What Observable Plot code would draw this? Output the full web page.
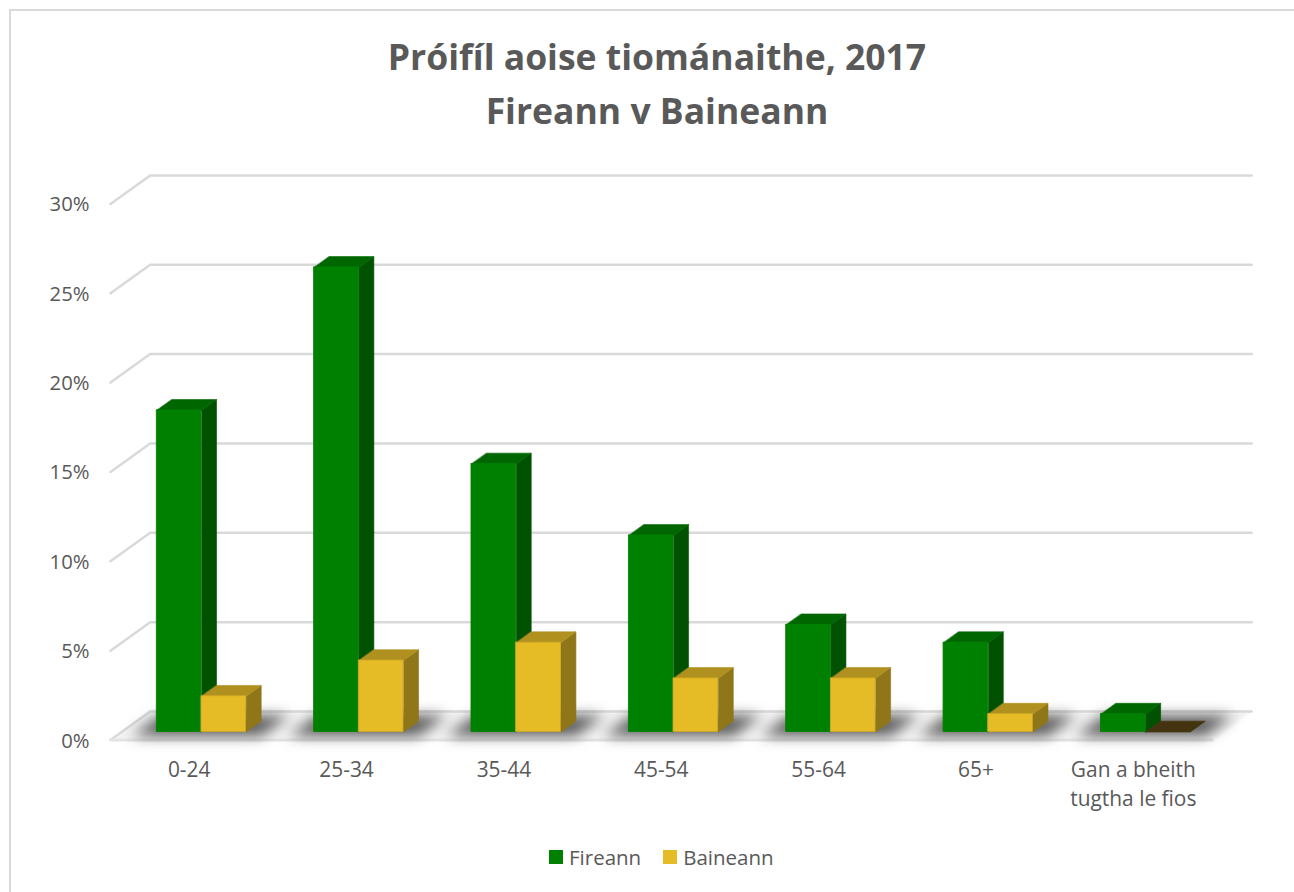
<!DOCTYPE html>
<html><head><meta charset="utf-8">
<script src="https://cdn.jsdelivr.net/npm/d3@7"></script>
<script src="https://cdn.jsdelivr.net/npm/@observablehq/plot@0.6"></script>
<style>
html,body{margin:0;padding:0;background:#fff;overflow:hidden}
#chart{position:relative;width:1294px;height:892px;overflow:hidden;background:#fff;font-family:"Open Sans",sans-serif;color:#595959}
#frame{position:absolute;left:8.5px;top:9px;width:1400px;height:1000px;border:2.5px solid #d9d9d9;box-sizing:border-box}
#title{position:relative;height:150px;padding-top:29px;box-sizing:border-box;text-align:center;font-weight:700;font-size:35.5px;line-height:54px;margin-left:20px}
#plot{position:relative;height:680px}
#plot svg{display:block}
#legend{position:absolute;left:549px;top:845px;display:flex;align-items:center;font-size:20.5px;line-height:24px}
#legend i{display:inline-block;width:14px;height:14px;margin-right:6px}
#legend span{margin-right:22px}
</style></head>
<body>
<div id="chart">
<div id="frame"></div>
<div id="title">Próifíl aoise tiománaithe, 2017<br>Fireann v Baineann</div>
<div id="plot"></div>
<div id="legend"><i style="background:#008000"></i><span>Fireann</span><i style="background:#e6bc26"></i><span>Baineann</span></div>
</div>
<script>
const categories = ["0-24","25-34","35-44","45-54","55-64","65+","Gan a bheith\ntugtha le fios"];
const fireann = [18,26,15,11,6,5,1];
const baineann = [2,4,5,3,3,1,0];
const percentTicks = [0,5,10,15,20,25,30];

// Oblique-projection helpers, in data units: a depth d (0 = front of floor, 1 = back wall)
const DX = 0.252, DY = 1.595;
const BAR = 0.284, START = 0.294, D0 = 0.28, D1 = 0.66;
const px = (u,d) => u + DX*d - DX*D0;   // u is measured at the bars' front plane
const py = (v,d) => v + DY*d;

const poly = (k, pts) => pts.map(([x,y]) => ({k,x,y}));
const faces = (values, offset) => {
  const front=[], side=[], top=[], flat=[];
  values.forEach((v,i) => {
    const l = i+START+offset*BAR, r = l+BAR;
    const lx = px(l,D0), rx = px(r,D0), bx = DX*(D1-D0);
    front.push({x1:lx,x2:rx,y1:py(0,D0),y2:py(v,D0)});
    const topFace = poly(i,[[lx,py(v,D0)],[rx,py(v,D0)],[rx+bx,py(v,D1)],[lx+bx,py(v,D1)]]);
    if (v === 0) { flat.push(...topFace); return; }
    side.push(...poly(i,[[rx,py(0,D0)],[rx+bx,py(0,D1)],[rx+bx,py(v,D1)],[rx,py(v,D0)]]));
    top.push(...topFace);
  });
  return {front: front.filter(f => f.y2 > f.y1), side, top, flat};
};
const green = faces(fireann,0), gold = faces(baineann,1);

const grid = percentTicks.flatMap(t => poly(t,[[0,t],[DX,t+DY],[7+DX,t+DY]]));
const floor = poly(0,[[0,0],[DX,DY],[7+DX,DY],[7,0]]);
const frontEdge = poly(0,[[0,0],[7,0]]);
const shadows = categories.flatMap((_,i) => {
  const l=i+0.10, r=i+0.92, a=0.14, b=0.86;
  return poly(i,[[l+DX*a,DY*a],[r+DX*a,DY*a],[r+DX*b,DY*b],[l+DX*b,DY*b]]);
});

const polygon = (data, fill, extra={}) => Plot.line(data,{x:"x",y:"y",z:"k",fill,stroke:fill,strokeWidth:0.6,curve:"linear-closed",...extra});
const bars = (f, cFront, cSide, cTop, edge) => [
  polygon(f.side,cSide),
  polygon(f.top,cTop),
  polygon(f.flat,"#43340f"),
  Plot.rect(f.front,{x1:"x1",x2:"x2",y1:"y1",y2:"y2",fill:cFront,stroke:edge,strokeWidth:0.8})
];

const plot = Plot.plot({
  width:1294, height:680,
  marginLeft:110, marginRight:0, marginTop:0, marginBottom:90.5,
  x:{type:"linear",domain:[0,7],range:[110,1211.5]},
  y:{type:"linear",domain:[0,30],range:[589.5,53.4]},
  style:{fontFamily:'"Open Sans",sans-serif',fontSize:"20.3px",color:"#595959",background:"transparent",overflow:"visible"},
  marks:[
    polygon(floor,"#f3f3f3",{stroke:"none",imageFilter:"blur(1.5px)"}),
    Plot.line(grid,{x:"x",y:"y",z:"k",stroke:"#d9d9d9",strokeWidth:2.5}),
    Plot.line(frontEdge,{x:"x",y:"y",stroke:"#e4e4e4",strokeWidth:3}),
    polygon(shadows,"#404040",{stroke:"none",imageFilter:"blur(7px)",fillOpacity:0.85}),
    ...bars(green,"#008000","#005200","#006600","#008000"),
    ...bars(gold,"#e6bc26","#8f7619","#b0911f","#cfa824"),
    Plot.axisY(percentTicks,{anchor:"left",tickSize:0,tickPadding:21,tickFormat:d=>d+"%",label:null,fontSize:20.3,fill:"#595959",dy:1}),
    Plot.axisX(categories.map((_,i)=>i+0.5),{anchor:"bottom",tickSize:0,tickPadding:16,tickFormat:d=>categories[d-0.5],label:null,fontSize:20.9,lineHeight:1.4,fill:"#595959"})
  ]
});
document.getElementById("plot").appendChild(plot);
</script>
</body></html>
